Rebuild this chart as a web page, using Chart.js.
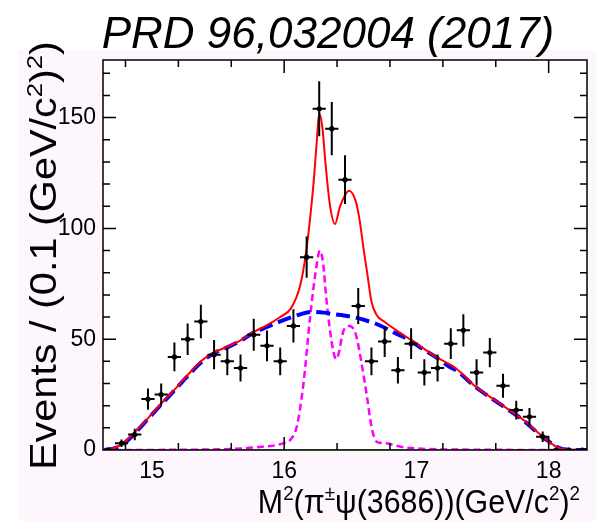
<!DOCTYPE html>
<html>
<head>
<meta charset="utf-8">
<script src="https://cdn.jsdelivr.net/npm/chart.js@4.4.0/dist/chart.umd.min.js"></script>
<style>
  html, body { margin: 0; padding: 0; background: #fff; }
  canvas { display: block; }
</style>
</head>
<body>
<canvas id="fitChart" width="596" height="521"></canvas>
<script>
// Histogram bins (bin centres, counts, errors)
const binCenters = [14.67, 14.77, 14.87, 14.97, 15.07, 15.17, 15.27, 15.37, 15.47, 15.57,
                    15.67, 15.77, 15.87, 15.97, 16.07, 16.17, 16.265, 16.36, 16.46, 16.56,
                    16.66, 16.76, 16.86, 16.96, 17.06, 17.16, 17.26, 17.355, 17.455, 17.555,
                    17.655, 17.755, 17.855, 17.955, 18.055, 18.155, 18.255];
const binCounts = [0, 3, 7, 23, 25, 42, 50, 58, 43, 40,
                   37, 52, 47, 40, 56, 87, 154, 145, 122, 65,
                   40, 49, 36, 48, 35, 37, 48, 54, 35, 44,
                   29, 18, 15, 6, 0, 0, 0];
const binErrors = [0, 1.7, 2.6, 4.8, 5, 6.5, 7.1, 7.6, 6.6, 6.3,
                   6.1, 7.2, 6.9, 6.3, 7.5, 9.3, 12.4, 12, 11, 8.1,
                   6.3, 7, 6, 6.9, 5.9, 6.1, 6.9, 7.3, 5.9, 6.6,
                   5.4, 4.2, 3.9, 2.4, 0, 0, 0];
const binHalfWidth = 0.05;

// Total fit (red)
const totalX = [14.64, 14.72, 14.78, 14.87, 14.97, 15.07, 15.18, 15.28, 15.38, 15.48,
                15.57, 15.67, 15.77, 15.87, 15.97, 16.05, 16.12, 16.165, 16.22, 16.245,
                16.265, 16.29, 16.31, 16.345, 16.385, 16.42, 16.46, 16.49, 16.54, 16.57,
                16.60, 16.63, 16.66, 16.70, 16.76, 16.85, 16.95, 17.05, 17.15, 17.30,
                17.45, 17.63, 17.81, 17.93, 17.99, 18.05, 18.11, 18.29];
const totalY = [0, 1, 3, 8, 14.3, 21, 27.8, 34.5, 40.5, 44.3,
                46.6, 49.5, 53.3, 56.3, 60, 63.8, 74, 89, 119, 138,
                152, 145, 131, 111, 102, 109.5, 115, 117, 112.5, 104,
                91, 79, 67, 60.8, 57.8, 54, 50, 46, 42, 36.8,
                28.5, 21, 13.5, 7.3, 4.3, 1.8, 0.3, 0];

// Background (blue dashed)
const bkgX = [14.64, 14.72, 14.78, 14.87, 14.97, 15.07, 15.18, 15.28, 15.38, 15.48,
              15.57, 15.67, 15.77, 15.87, 15.97, 16.05, 16.12, 16.20, 16.30, 16.37,
              16.45, 16.52, 16.60, 16.72, 16.83, 16.95, 17.05, 17.15, 17.25, 17.30,
              17.45, 17.63, 17.81, 17.93, 17.99, 18.05, 18.11, 18.29];
const bkgY = [0, 0.8, 2.5, 7.5, 14, 20.5, 27.5, 34, 40, 44,
              46.3, 49.3, 53, 55.5, 58, 59.8, 61.2, 62.3, 62, 61.3,
              60.7, 60, 58.8, 56.3, 53, 49.5, 45.5, 41.8, 37.5, 36,
              28.3, 20.8, 13.3, 7, 4.3, 1.8, 0.3, 0];

// Signal (magenta dashed)
const sigX = [14.63, 15.40, 15.70, 15.85, 15.94, 16.00, 16.045, 16.095, 16.146, 16.196,
              16.247, 16.27, 16.295, 16.32, 16.37, 16.395, 16.45, 16.49, 16.54, 16.59,
              16.63, 16.66, 16.70, 16.77, 16.88, 17.0, 17.3, 18.29];
const sigY = [0, 0.2, 0.8, 1.6, 2.2, 3.2, 4.5, 10.5, 30, 60,
              84, 90, 84, 67.5, 45, 41, 54, 56, 52.5, 37.5,
              22.5, 10.5, 3.7, 3, 1.5, 0.7, 0.2, 0];

const xRange = [14.63, 18.29];
const yRange = [0, 176];
const xTickValues = [15, 16, 17, 18];
const xTickLabels = ['15', '16', '17', '18'];
const yTickValues = [0, 50, 100, 150];
const yTickLabels = ['0', '50', '100', '150'];

const FONT = "'Liberation Sans', Arial, Helvetica, sans-serif";

function toXY(xs, ys) {
    return xs.map((x, i) => ({ x: x, y: ys[i] }));
}

// draw text made of normal and superscript parts, stretched along the text by sx
function drawRich(ctx, parts, x, y, size, align, sx) {
    const widths = parts.map(p => {
        ctx.font = (p[1] ? size * 0.62 : size) + 'px ' + FONT;
        return ctx.measureText(p[0]).width;
    });
    const total = widths.reduce((a, b) => a + b, 0);
    let cx = align === 'right' ? -total : (align === 'center' ? -total / 2 : 0);
    ctx.save();
    ctx.translate(x, y);
    ctx.scale(sx, 1);
    ctx.textAlign = 'left';
    ctx.textBaseline = 'alphabetic';
    parts.forEach((p, i) => {
        ctx.font = (p[1] ? size * 0.62 : size) + 'px ' + FONT;
        ctx.fillText(p[0], cx, p[1] ? -size * 0.4 : 0);
        cx += widths[i];
    });
    ctx.restore();
}

const rootStyle = {
    id: 'rootStyle',
    beforeDraw(chart) {
        const { ctx, chartArea: a } = chart;
        ctx.save();
        ctx.fillStyle = '#ffffff';
        ctx.fillRect(0, 0, chart.width, chart.height);
        ctx.fillStyle = '#fdf7fd';
        ctx.fillRect(18, 50, chart.width - 18, chart.height - 50);
        ctx.fillStyle = '#ffffff';
        ctx.fillRect(a.left, a.top, a.right - a.left, a.bottom - a.top);
        ctx.restore();
    },
    afterDatasetsDraw(chart) {
        const { ctx, chartArea: a, scales: { x, y } } = chart;

        // error bars
        ctx.save();
        ctx.beginPath();
        ctx.rect(a.left, a.top, a.right - a.left, a.bottom - a.top);
        ctx.clip();
        ctx.strokeStyle = '#000';
        ctx.lineWidth = 2;
        ctx.beginPath();
        binCenters.forEach((c, i) => {
            const px = x.getPixelForValue(c);
            const py = y.getPixelForValue(binCounts[i]);
            ctx.moveTo(x.getPixelForValue(c - binHalfWidth), py);
            ctx.lineTo(x.getPixelForValue(c + binHalfWidth), py);
            if (binErrors[i] > 0) {
                ctx.moveTo(px, y.getPixelForValue(binCounts[i] - binErrors[i]));
                ctx.lineTo(px, y.getPixelForValue(binCounts[i] + binErrors[i]));
            }
        });
        ctx.stroke();
        ctx.restore();

        // frame with inward ticks, ROOT style
        ctx.save();
        ctx.strokeStyle = '#000';
        ctx.lineWidth = 1.5;
        ctx.strokeRect(a.left, a.top, a.right - a.left, a.bottom - a.top);
        ctx.beginPath();
        for (let k = 74; k <= 182; k += 2) {
            const v = k / 5;
            if (v <= xRange[0] || v >= xRange[1]) continue;
            const len = (k % 5 === 0) ? 13 : 7;
            const px = x.getPixelForValue(v);
            ctx.moveTo(px, a.bottom); ctx.lineTo(px, a.bottom - len);
            ctx.moveTo(px, a.top); ctx.lineTo(px, a.top + len);
        }
        for (let v = 10; v < yRange[1]; v += 10) {
            const len = (v % 50 === 0) ? 13 : 7;
            const py = y.getPixelForValue(v);
            ctx.moveTo(a.left, py); ctx.lineTo(a.left + len, py);
            ctx.moveTo(a.right, py); ctx.lineTo(a.right - len, py);
        }
        ctx.stroke();
        ctx.restore();
    },
    afterDraw(chart) {
        const ctx = chart.ctx;
        ctx.save();
        ctx.fillStyle = '#000';
        // publication tag
        ctx.font = 'italic 44px ' + FONT;
        ctx.textAlign = 'center';
        ctx.textBaseline = 'alphabetic';
        ctx.fillText('PRD 96,032004 (2017)', 328, 48);

        // x axis title
        drawRich(ctx, [['M'], ['2', true], ['(π'], ['±', true], ['ψ(3686))(GeV/c'], ['2', true], [')'], ['2', true]],
                 580, 513, 33, 'right', 0.92);

        // y axis title, rotated
        ctx.translate(56, 470);
        ctx.rotate(-Math.PI / 2);
        drawRich(ctx, [['Events / (0.1 (GeV/c'], ['2', true], [')'], ['2', true], [')']], 0, 0, 36, 'left', 1.15);
        ctx.restore();
    }
};

new Chart(document.getElementById('fitChart'), {
    type: 'line',
    data: {
        datasets: [
            {
                type: 'scatter',
                label: 'Data',
                data: toXY(binCenters, binCounts),
                pointStyle: 'circle',
                pointRadius: 2.6,
                backgroundColor: '#000',
                borderColor: '#000',
                borderWidth: 0
            },
            {
                label: 'Total fit',
                data: toXY(totalX, totalY),
                borderColor: '#ff0000',
                borderWidth: 2,
                pointRadius: 0,
                cubicInterpolationMode: 'monotone',
                fill: false
            },
            {
                label: 'Background',
                data: toXY(bkgX, bkgY),
                borderColor: '#0000ff',
                borderWidth: 4,
                borderDash: [14, 6],
                pointRadius: 0,
                cubicInterpolationMode: 'monotone',
                fill: false
            },
            {
                label: 'Signal',
                data: toXY(sigX, sigY),
                borderColor: '#ff00ff',
                borderWidth: 2.5,
                borderDash: [7, 4],
                pointRadius: 0,
                cubicInterpolationMode: 'monotone',
                fill: false
            },
            {
                label: 'Zero',
                data: toXY(xRange, [0, 0]),
                borderColor: '#22bb22',
                borderWidth: 1.5,
                pointRadius: 0,
                fill: false
            }
        ]
    },
    options: {
        responsive: false,
        animation: false,
        devicePixelRatio: 1,
        layout: { padding: { top: 60, right: 9, left: 0, bottom: 0 } },
        plugins: {
            legend: { display: false },
            tooltip: { enabled: false }
        },
        scales: {
            x: {
                type: 'linear',
                position: 'bottom',
                min: xRange[0],
                max: xRange[1],
                grid: { display: false, drawTicks: false },
                border: { display: false },
                afterBuildTicks: s => { s.ticks = xTickValues.map(v => ({ value: v })); },
                afterFit: s => { s.height = 71; },
                ticks: {
                    callback: (v, i) => xTickLabels[i],
                    font: { family: FONT, size: 23 },
                    color: '#000',
                    padding: 8,
                    maxRotation: 0,
                    autoSkip: false
                }
            },
            y: {
                type: 'linear',
                min: yRange[0],
                max: yRange[1],
                grid: { display: false, drawTicks: false },
                border: { display: false },
                afterBuildTicks: s => { s.ticks = yTickValues.map(v => ({ value: v })); },
                afterFit: s => { s.width = 103; },
                ticks: {
                    callback: (v, i) => yTickLabels[i],
                    font: { family: FONT, size: 23 },
                    color: '#000',
                    padding: 7,
                    autoSkip: false
                }
            }
        }
    },
    plugins: [rootStyle]
});
</script>
</body>
</html>
